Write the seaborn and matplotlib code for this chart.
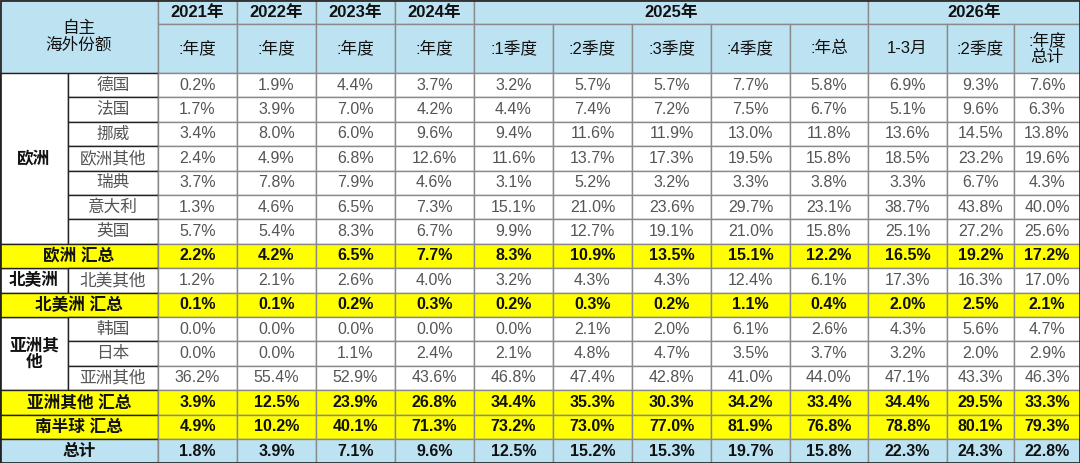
import matplotlib
matplotlib.use("Agg")
import matplotlib.pyplot as plt
from matplotlib.patches import Rectangle
import seaborn as sns

sns.set_theme(style="white")
plt.rcParams['font.family'] = ['Liberation Sans', 'Noto Sans CJK SC', 'DejaVu Sans']

years = ["2021年", "2022年", "2023年", "2024年", "2025年", "2026年"]
year_spans = [1, 1, 1, 1, 5, 3]
sub_headers = [":年度", ":年度", ":年度", ":年度", ":1季度", ":2季度", ":3季度", ":4季度", ":年总",
               "1-3月", ":2季度", ":年度\n总计"]
groups = [("欧洲", 7), (None, 1), ("北美洲", 1), (None, 1), ("亚洲其\n他", 3), (None, 1), (None, 1), (None, 1)]
row_labels = ["德国", "法国", "挪威", "欧洲其他", "瑞典", "意大利", "英国", "欧洲 汇总",
              "北美其他", "北美洲 汇总", "韩国", "日本", "亚洲其他", "亚洲其他 汇总", "南半球 汇总", "总计"]
row_kind = ["d"] * 7 + ["s", "d", "s", "d", "d", "d", "s", "s", "t"]
values = [
    ["0.2%", "1.9%", "4.4%", "3.7%", "3.2%", "5.7%", "5.7%", "7.7%", "5.8%", "6.9%", "9.3%", "7.6%"],
    ["1.7%", "3.9%", "7.0%", "4.2%", "4.4%", "7.4%", "7.2%", "7.5%", "6.7%", "5.1%", "9.6%", "6.3%"],
    ["3.4%", "8.0%", "6.0%", "9.6%", "9.4%", "11.6%", "11.9%", "13.0%", "11.8%", "13.6%", "14.5%", "13.8%"],
    ["2.4%", "4.9%", "6.8%", "12.6%", "11.6%", "13.7%", "17.3%", "19.5%", "15.8%", "18.5%", "23.2%", "19.6%"],
    ["3.7%", "7.8%", "7.9%", "4.6%", "3.1%", "5.2%", "3.2%", "3.3%", "3.8%", "3.3%", "6.7%", "4.3%"],
    ["1.3%", "4.6%", "6.5%", "7.3%", "15.1%", "21.0%", "23.6%", "29.7%", "23.1%", "38.7%", "43.8%", "40.0%"],
    ["5.7%", "5.4%", "8.3%", "6.7%", "9.9%", "12.7%", "19.1%", "21.0%", "15.8%", "25.1%", "27.2%", "25.6%"],
    ["2.2%", "4.2%", "6.5%", "7.7%", "8.3%", "10.9%", "13.5%", "15.1%", "12.2%", "16.5%", "19.2%", "17.2%"],
    ["1.2%", "2.1%", "2.6%", "4.0%", "3.2%", "4.3%", "4.3%", "12.4%", "6.1%", "17.3%", "16.3%", "17.0%"],
    ["0.1%", "0.1%", "0.2%", "0.3%", "0.2%", "0.3%", "0.2%", "1.1%", "0.4%", "2.0%", "2.5%", "2.1%"],
    ["0.0%", "0.0%", "0.0%", "0.0%", "0.0%", "2.1%", "2.0%", "6.1%", "2.6%", "4.3%", "5.6%", "4.7%"],
    ["0.0%", "0.0%", "1.1%", "2.4%", "2.1%", "4.8%", "4.7%", "3.5%", "3.7%", "3.2%", "2.0%", "2.9%"],
    ["36.2%", "55.4%", "52.9%", "43.6%", "46.8%", "47.4%", "42.8%", "41.0%", "44.0%", "47.1%", "43.3%", "46.3%"],
    ["3.9%", "12.5%", "23.9%", "26.8%", "34.4%", "35.3%", "30.3%", "34.2%", "33.4%", "34.4%", "29.5%", "33.3%"],
    ["4.9%", "10.2%", "40.1%", "71.3%", "73.2%", "73.0%", "77.0%", "81.9%", "76.8%", "78.8%", "80.1%", "79.3%"],
    ["1.8%", "3.9%", "7.1%", "9.6%", "12.5%", "15.2%", "15.3%", "19.7%", "15.8%", "22.3%", "24.3%", "22.8%"],
]

# layout (pixels)
col_w = [68, 90] + [79] * 8 + [78, 79, 67, 66]
h_top, h_sub, row_h = 24, 49, 24.4
HEAD = "#BDE3F3"; YEL = "#FFFF00"; LINE = "#8a8a8a"; DARK = "#222222"

fig = plt.figure(figsize=(10.8, 4.63), dpi=100)
ax = fig.add_axes([0, 0, 1, 1])
W = sum(col_w); H = 463
ax.set_xlim(0, W); ax.set_ylim(H, 0); ax.axis("off")

xs = [0]
for w in col_w:
    xs.append(xs[-1] + w)

def cell(x0, x1, y0, y1, txt, fc="white", color="#555555", bold=False, size=11, ec=LINE):
    ax.add_patch(Rectangle((x0, y0), x1 - x0, y1 - y0, facecolor=fc, edgecolor=ec, lw=1))
    if txt:
        ax.text((x0 + x1) / 2, (y0 + y1) / 2, txt, ha="center", va="center", fontsize=size,
                color=color, fontweight="bold" if bold else "normal", linespacing=1.1)

# header
cell(xs[0], xs[2], 0, h_top + h_sub, "自主\n海外份额", HEAD, "#111111", size=12)
ci = 2
for y, s in zip(years, year_spans):
    cell(xs[ci], xs[ci + s], 0, h_top, y, HEAD, "#111111", True, 12)
    ci += s
for j, sh in enumerate(sub_headers):
    cell(xs[2 + j], xs[3 + j], h_top, h_top + h_sub, sh, HEAD, "#111111", size=12)

y0 = h_top + h_sub
# group column
r = 0
for g, n in groups:
    if g is not None:
        cell(xs[0], xs[1], y0 + r * row_h, y0 + (r + n) * row_h, g, "white", "#111111", True, 12, ec=DARK)
    r += n

for i, (lab, kind) in enumerate(zip(row_labels, row_kind)):
    ya, yb = y0 + i * row_h, y0 + (i + 1) * row_h
    if kind == "d":
        fc, col, bold = "white", "#555555", False
        cell(xs[1], xs[2], ya, yb, lab, fc, col, False, 12, ec=DARK)
    else:
        fc = YEL if kind == "s" else HEAD
        col, bold = "#111111", True
        cell(xs[0], xs[2], ya, yb, lab, fc, col, True, 12, ec=DARK)
    for j, v in enumerate(values[i]):
        cell(xs[2 + j], xs[3 + j], ya, yb, v, fc, col, bold, 11.5)

ax.add_patch(Rectangle((0.5, 0.5), W - 1, H - 1, fill=False, edgecolor=DARK, lw=1.2))
fig.savefig("out.png", dpi=100)
